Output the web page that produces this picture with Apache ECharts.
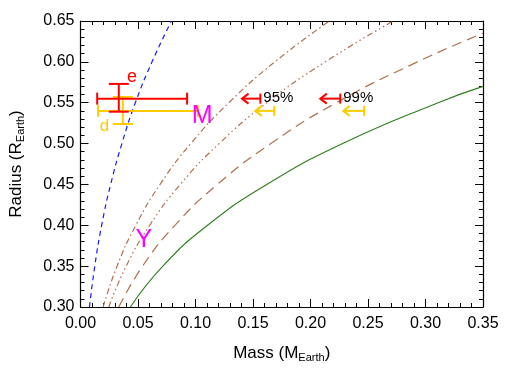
<!DOCTYPE html>
<html>
<head>
<meta charset="utf-8">
<script src="https://cdn.jsdelivr.net/npm/echarts@6/dist/echarts.min.js"></script>
<style>html,body{margin:0;padding:0;background:#fff}#c{width:513px;height:368px}</style>
</head>
<body>
<div id="c"></div>
<script>
// Mass (M_Earth), Radius (R_Earth) pairs
const blueDashed = [[0.0078,0.30],[0.0124,0.35],[0.0184,0.40],[0.0262,0.45],[0.036,0.50],[0.0477,0.55],[0.0622,0.60],[0.079,0.65]];
const brownDashDot = [[0.0197,0.30],[0.0318,0.35],[0.0481,0.40],[0.0692,0.45],[0.0959,0.50],[0.129,0.55],[0.169,0.60],[0.2165,0.65]];
const brownDashDot3 = [[0.0246,0.30],[0.0397,0.35],[0.0602,0.40],[0.0868,0.45],[0.1206,0.50],[0.162,0.55],[0.2128,0.60],[0.272,0.65]];
const brownLongDash = [[0.0333,0.30],[0.054,0.35],[0.0821,0.40],[0.119,0.45],[0.1655,0.50],[0.2225,0.55],[0.293,0.60],[0.35,0.635]];
const greenSolid = [[0.0434,0.30],[0.0716,0.35],[0.1105,0.40],[0.162,0.45],[0.228,0.50],[0.311,0.55],[0.35,0.57]];
// error bars: [x, y, xLow, xHigh, yLow, yHigh]
const errorBars = [[0.0368,0.540,0.0153,0.102,0.524,0.557],[0.0333,0.555,0.0145,0.0927,0.539,0.573]];
const errorColors = ['#FFCC00','#FF0000'];
// upper limit arrows: [arrowTipX, capX, y]
const limitArrows = [[0.1404,0.1564,0.555],[0.152,0.1685,0.540],[0.2085,0.2259,0.555],[0.2285,0.2467,0.540]];
const arrowColors = ['#FF0000','#FFCC00','#FF0000','#FFCC00'];
// text annotations: [x, y, text]
const annotations = [[0.0448,0.581,'e'],[0.0209,0.521,'d'],[0.1057,0.533,'M'],[0.0550,0.382,'Y'],[0.159,0.5555,'95%'],[0.2285,0.5555,'99%']];
const annColors = ['#FF0000','#FFCC00','#FF00FF','#FF00FF','#000000','#000000'];
const annSizes = [18,17,25,25,15,15];
const annAlign = ['center','center','center','center','left','left'];
const xTicks = [0,0.35,0.05];
const yTicks = [0.30,0.65,0.05];

const font = 'Liberation Sans, Arial, Helvetica, sans-serif';
const chart = echarts.init(document.getElementById('c'), null, {renderer:'canvas'});

const axisCommon = {
  axisLine:{show:true,onZero:false,lineStyle:{color:'#000',width:1.2}},
  axisTick:{show:true,inside:true,length:8,lineStyle:{color:'#000',width:1}},
  minorTick:{show:true,splitNumber:5,length:4,lineStyle:{color:'#000',width:1}},
  splitLine:{show:false},
  minorSplitLine:{show:false}
};

function lineSeries(data,color,type,w){
  return {type:'line',data:data,smooth:0.5,symbol:'none',clip:true,
    lineStyle:{color:color,width:w||1.2,type:type},xAxisIndex:0,yAxisIndex:0,z:2};
}
const nameRich = {sub:{fontSize:11,fontFamily:font,color:'#000',padding:[9,0,0,0]}};

chart.setOption({
  animation:false,
  grid:{left:80,top:21,right:30,bottom:60,containLabel:false},
  xAxis:[
    Object.assign({type:'value',min:xTicks[0],max:xTicks[1],interval:xTicks[2],position:'bottom',
      name:'Mass (M{sub|Earth})',nameLocation:'middle',nameGap:36,
      nameTextStyle:{color:'#000',fontSize:17,fontFamily:font,rich:nameRich},
      axisLabel:{color:'#000',fontSize:16,fontFamily:font,margin:9,formatter:v=>v.toFixed(2)}},axisCommon),
    Object.assign({type:'value',min:xTicks[0],max:xTicks[1],interval:xTicks[2],position:'top',axisLabel:{show:false}},axisCommon)
  ],
  yAxis:[
    Object.assign({type:'value',min:yTicks[0],max:yTicks[1],interval:yTicks[2],position:'left',
      name:'Radius (R{sub|Earth})',nameLocation:'middle',nameGap:54,nameRotate:90,
      nameTextStyle:{color:'#000',fontSize:17,fontFamily:font,rich:nameRich},
      axisLabel:{color:'#000',fontSize:16,fontFamily:font,margin:6,formatter:v=>v.toFixed(2)}},axisCommon),
    Object.assign({type:'value',min:yTicks[0],max:yTicks[1],interval:yTicks[2],position:'right',axisLabel:{show:false}},axisCommon)
  ],
  series:[
    lineSeries(blueDashed,'#1A1AFF',[5,4]),
    lineSeries(brownDashDot,'#B06F4F',[6,3,1.5,3]),
    lineSeries(brownDashDot3,'#B06F4F',[6,3,1.5,3,1.5,3,1.5,3]),
    lineSeries(brownLongDash,'#B06F4F',[10,6]),
    lineSeries(greenSolid,'#2E7D1E','solid',1.1),
    {type:'custom',data:errorBars,z:5,clip:false,
      renderItem:function(params,api){
        const x=api.value(0),y=api.value(1),xl=api.value(2),xh=api.value(3),yl=api.value(4),yh=api.value(5);
        const l=api.coord([xl,y]),r=api.coord([xh,y]),t=api.coord([x,yh]),b=api.coord([x,yl]);
        const col=errorColors[params.dataIndex];
        const st={stroke:col,lineWidth:2};
        const seg=(a,bb,c,d)=>({type:'line',shape:{x1:a,y1:bb,x2:c,y2:d},style:st});
        return {type:'group',children:[
          seg(l[0],l[1],r[0],r[1]),
          seg(l[0],l[1]-6,l[0],l[1]+6),
          seg(r[0],r[1]-6,r[0],r[1]+6),
          seg(t[0],t[1],b[0],b[1]),
          seg(t[0]-10,t[1],t[0]+10,t[1]),
          seg(b[0]-10,b[1],b[0]+10,b[1])
        ]};
      }},
    {type:'custom',data:limitArrows,z:5,clip:false,
      renderItem:function(params,api){
        const p=api.coord([api.value(0),api.value(2)]),q=api.coord([api.value(1),api.value(2)]);
        const col=arrowColors[params.dataIndex];
        const st={stroke:col,lineWidth:2};
        const seg=(a,bb,c,d)=>({type:'line',shape:{x1:a,y1:bb,x2:c,y2:d},style:st});
        return {type:'group',children:[
          seg(p[0],p[1],q[0],q[1]),
          seg(q[0],q[1]-5,q[0],q[1]+5),
          {type:'polyline',shape:{points:[[p[0]+6.5,p[1]-5],[p[0],p[1]],[p[0]+6.5,p[1]+5]]},style:{stroke:col,lineWidth:2,fill:null}}
        ]};
      }},
    {type:'custom',data:annotations,z:6,clip:false,
      renderItem:function(params,api){
        const i=params.dataIndex;
        const p=api.coord([annotations[i][0],annotations[i][1]]);
        return {type:'text',x:p[0],y:p[1],style:{text:annotations[i][2],fill:annColors[i],fontSize:annSizes[i],fontFamily:font,align:annAlign[i],verticalAlign:'middle'}};
      }}
  ]
});
</script>
</body>
</html>
